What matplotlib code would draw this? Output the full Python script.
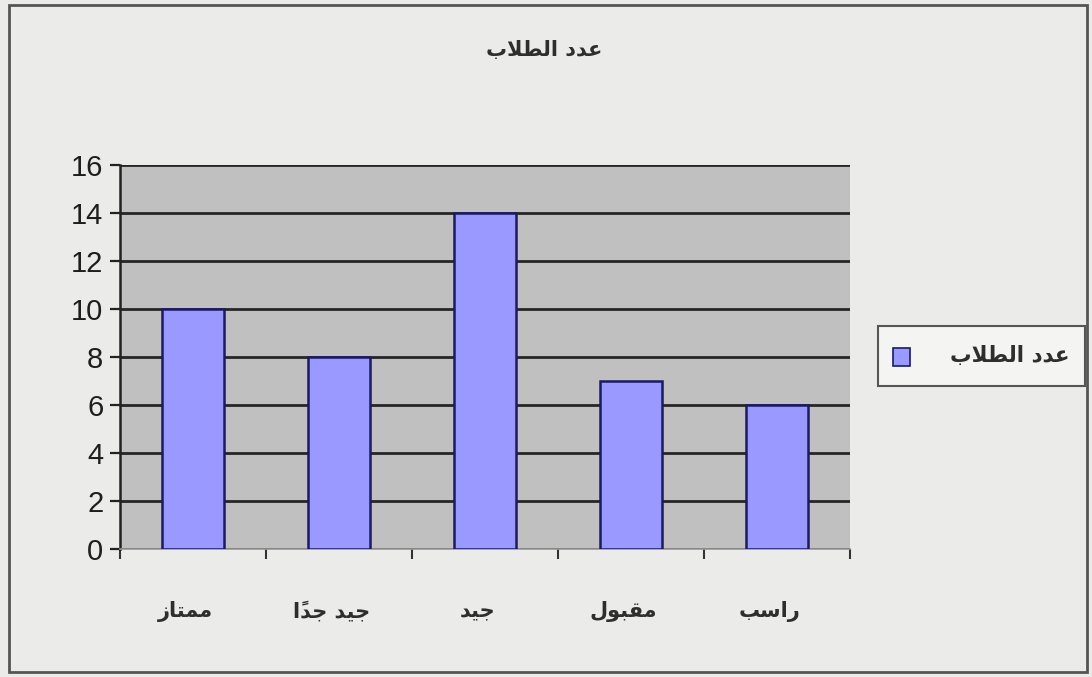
import matplotlib
matplotlib.use("Agg")
import matplotlib.pyplot as plt
from matplotlib.patches import Rectangle
import numpy as np

# Arabic letter forms: isolated, final, initial, medial (right-joining letters have only two)
FORMS = {
    "ا": (0xFE8D, 0xFE8E),
    "ب": (0xFE8F, 0xFE90, 0xFE91, 0xFE92),
    "ت": (0xFE95, 0xFE96, 0xFE97, 0xFE98),
    "ج": (0xFE9D, 0xFE9E, 0xFE9F, 0xFEA0),
    "د": (0xFEA9, 0xFEAA),
    "ر": (0xFEAD, 0xFEAE),
    "ز": (0xFEAF, 0xFEB0),
    "س": (0xFEB1, 0xFEB2, 0xFEB3, 0xFEB4),
    "ط": (0xFEC1, 0xFEC2, 0xFEC3, 0xFEC4),
    "ع": (0xFEC9, 0xFECA, 0xFECB, 0xFECC),
    "ق": (0xFED5, 0xFED6, 0xFED7, 0xFED8),
    "ل": (0xFEDD, 0xFEDE, 0xFEDF, 0xFEE0),
    "م": (0xFEE1, 0xFEE2, 0xFEE3, 0xFEE4),
    "و": (0xFEED, 0xFEEE),
    "ي": (0xFEF1, 0xFEF2, 0xFEF3, 0xFEF4),
    "لا": (0xFEFB, 0xFEFC),
}
MARKS = "\u064B\u064C\u064D\u064E\u064F\u0650\u0651\u0652"


def shape(text):
    # join letters into their contextual forms and lay them out right to left
    tokens = []
    for ch in text:
        if ch in MARKS and tokens:
            tokens[-1][1] += ch
        elif ch == "ا" and tokens and tokens[-1][0] == "ل" and not tokens[-1][1]:
            tokens[-1][0] = "لا"
        else:
            tokens.append([ch, ""])
    glyphs = []
    for i, (ch, marks) in enumerate(tokens):
        forms = FORMS.get(ch)
        if forms is None:
            glyphs.append(ch + marks)
            continue
        prev = tokens[i - 1][0] if i > 0 else None
        nxt = tokens[i + 1][0] if i + 1 < len(tokens) else None
        jp = prev in FORMS and len(FORMS[prev]) == 4
        jn = nxt in FORMS and len(forms) == 4
        if jp and jn:
            g = forms[3]
        elif jp:
            g = forms[1]
        elif jn:
            g = forms[2]
        else:
            g = forms[0]
        glyphs.append(chr(g) + marks)
    return "".join(reversed(glyphs))


title = "عدد الطلاب"
series_name = "عدد الطلاب"
grades = ["ممتاز", "جيد جداً", "جيد", "مقبول", "راسب"]
students = [10, 8, 14, 7, 6]
y_ticks = [0, 2, 4, 6, 8, 10, 12, 14, 16]

bg = "#ebebe9"
bar_color = "#9999ff"
bar_edge = "#1a1a66"
text_color = "#2e2e2e"
arabic_font = ["DejaVu Sans"]

fig = plt.figure(figsize=(10.92, 6.77), dpi=100, facecolor=bg)
ax = fig.add_axes([120 / 1092, 128 / 677, 730 / 1092, 384 / 677])
ax.set_facecolor("#c0c0c0")

x = np.arange(len(grades))
ax.bar(x, students, width=0.43, color=bar_color, edgecolor=bar_edge,
       linewidth=1.8, zorder=3)

ax.set_xlim(-0.5, len(grades) - 0.5)
ax.set_ylim(0, 16)
ax.set_yticks(y_ticks)
ax.set_yticklabels([str(v) for v in y_ticks], family="Liberation Sans",
                   fontsize=21, color="#1e1e1e")
ax.yaxis.grid(True, color="#262626", linewidth=2, zorder=1)
ax.set_axisbelow(True)
ax.tick_params(axis="y", length=7, width=1.6, color="#222222", pad=5)

# category ticks sit between the bars
ax.set_xticks(np.arange(len(grades) + 1) - 0.5)
ax.set_xticklabels([])
ax.tick_params(axis="x", length=7, width=1.5, color="#333333")
for xi, name in zip(x, grades):
    ax.text(xi - 0.05, -2.6, shape(name), ha="center", va="center",
            family=arabic_font, fontsize=15, fontweight="bold",
            color=text_color)

for side in ("top", "right"):
    ax.spines[side].set_visible(False)
ax.spines["left"].set_color("#222222")
ax.spines["left"].set_linewidth(1.8)
ax.spines["bottom"].set_color("#999999")
ax.spines["bottom"].set_linewidth(1.2)

fig.text(544 / 1092, 1 - 50 / 677, shape(title), ha="center", va="center",
         family=arabic_font, fontsize=15, fontweight="bold", color=text_color)

# legend box
fig.patches.append(Rectangle((878 / 1092, 1 - 386 / 677), 207 / 1092, 60 / 677,
                             transform=fig.transFigure, facecolor="#f4f4f2",
                             edgecolor="#555555", linewidth=1.5))
fig.patches.append(Rectangle((893 / 1092, 1 - 366 / 677), 17 / 1092, 18 / 677,
                             transform=fig.transFigure, facecolor=bar_color,
                             edgecolor=bar_edge, linewidth=1.2))
fig.text(1070 / 1092, 1 - 356 / 677, shape(series_name), ha="right", va="center",
         family=arabic_font, fontsize=15.5, fontweight="bold", color=text_color)

# chart border
fig.patches.append(Rectangle((9 / 1092, 5 / 677), 1078 / 1092, 667 / 677,
                             transform=fig.transFigure, facecolor="none",
                             edgecolor="#555555", linewidth=2))

fig.savefig("out.png", dpi=100, facecolor=bg)
